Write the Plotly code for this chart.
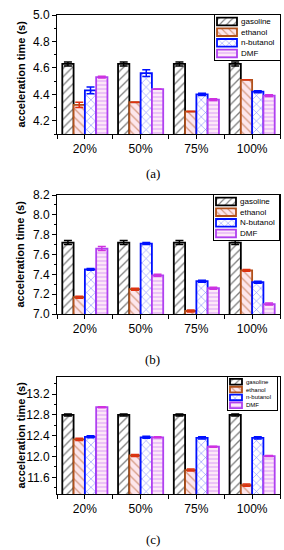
import plotly.graph_objects as go

categories = ["20%", "50%", "75%", "100%"]
fuels_a = ["gasoline", "ethanol", "n-butanol", "DMF"]
fuels_b = ["gasoline", "ethanol", "N-butanol", "DMF"]
fuels_c = ["gasoline", "ethanol", "n-butanol", "DMF"]

# panel (a)
a_gasoline = [4.63, 4.63, 4.63, 4.63]
a_ethanol = [4.32, 4.34, 4.27, 4.51]
a_nbutanol = [4.43, 4.56, 4.40, 4.42]
a_dmf = [4.53, 4.44, 4.36, 4.39]
a_err = [[0.015] * 4, [0.02, 0, 0, 0], [0.025, 0.025, 0.008, 0.008], [0.006, 0, 0.006, 0.006]]

# panel (b)
b_gasoline = [7.72, 7.72, 7.72, 7.72]
b_ethanol = [7.17, 7.25, 7.03, 7.44]
b_nbutanol = [7.45, 7.71, 7.33, 7.32]
b_dmf = [7.66, 7.39, 7.26, 7.10]
b_err = [[0.02] * 4, [0.01] * 4, [0.01] * 4, [0.02, 0.01, 0.01, 0.01]]

# panel (c)
c_gasoline = [12.80, 12.80, 12.80, 12.80]
c_ethanol = [12.33, 12.02, 11.74, 11.45]
c_nbutanol = [12.38, 12.37, 12.36, 12.36]
c_dmf = [12.95, 12.37, 12.19, 12.01]
c_err = [[0.02] * 4, [0.02] * 4, [0.02] * 4, [0.01] * 4]

yranges = [[4.1, 5.0], [7.0, 8.2], [11.28, 13.53]]
ydticks = [0.2, 0.2, 0.4]
panel_labels = ["(a)", "(b)", "(c)"]

colors = ["#000000", "#b0501a", "#0010ff", "#b040f0"]
errcolors = ["#000000", "#e03010", "#0010ff", "#d030e0"]
bgcolors = ["#ffffff", "#fde6ec", "#ffffff", "#fde8f8"]
shapes = ["/", "\\", "x", "-"]
solids = [0.22, 0.22, 0.18, 0.22]

W, H = 284, 550
x0, x1 = 57, 280
panels_px = [(15, 134), (195, 314), (377, 494)]
label_y = [173, 359, 539]
# legend boxes (left, right, top, bottom) in px, swatch width, font size
legend_px = [(215, 280, 15, 60, 20, 8), (214, 279, 195, 240, 20, 8), (228, 277, 377, 410, 12, 6)]

fig = go.Figure()
xnum = list(range(len(categories)))

data = [
    (fuels_a, [a_gasoline, a_ethanol, a_nbutanol, a_dmf], a_err),
    (fuels_b, [b_gasoline, b_ethanol, b_nbutanol, b_dmf], b_err),
    (fuels_c, [c_gasoline, c_ethanol, c_nbutanol, c_dmf], c_err),
]


def marker(i, size=6):
    return dict(
        color=bgcolors[i],
        line=dict(color=colors[i], width=1.8),
        pattern=dict(shape=shapes[i], fgcolor=colors[i], bgcolor=bgcolors[i],
                     size=size if i != 3 else 4, solidity=solids[i], fillmode="overlay"),
    )


for p, (names, series, errs) in enumerate(data):
    xa = "x" if p == 0 else f"x{p+1}"
    ya = "y" if p == 0 else f"y{p+1}"
    for i, (nm, vals) in enumerate(zip(names, series)):
        fig.add_trace(go.Bar(
            x=xnum, y=vals, name=nm, xaxis=xa, yaxis=ya, showlegend=False,
            marker=marker(i),
            error_y=dict(type="data", array=errs[i], color=errcolors[i],
                         thickness=1.5, width=4, visible=True),
        ))

# legend swatches on inset axes (added after all data bars)
for p, (names, series, errs) in enumerate(data):
    lx = f"x{p+4}"
    ly = f"y{p+4}"
    L, R, T, B, sw, fs = legend_px[p]
    for i, nm in enumerate(names):
        fig.add_trace(go.Bar(
            y=[i], x=[sw], base=[2], orientation="h", xaxis=lx, yaxis=ly,
            width=0.72, showlegend=False, hoverinfo="skip",
            marker=marker(i, size=5),
        ))

layout = dict(
    width=W, height=H,
    margin=dict(l=0, r=0, t=0, b=0, autoexpand=False),
    paper_bgcolor="white", plot_bgcolor="white",
    barmode="group", bargap=0.19, bargroupgap=0,
    font=dict(family="Liberation Sans, Arial, sans-serif", color="black"),
    showlegend=False,
    annotations=[],
)

for p in range(3):
    top, bot = panels_px[p]
    yd = [1 - bot / H, 1 - top / H]
    xkey = "xaxis" if p == 0 else f"xaxis{p+1}"
    ykey = "yaxis" if p == 0 else f"yaxis{p+1}"
    xa = "x" if p == 0 else f"x{p+1}"
    ya = "y" if p == 0 else f"y{p+1}"
    layout[xkey] = dict(
        domain=[x0 / W, x1 / W], anchor=ya, range=[-0.5, 3.5],
        tickvals=xnum, ticktext=categories,
        showline=True, linecolor="black", linewidth=1, mirror=True,
        ticks="outside", ticklen=4, tickcolor="black", tickwidth=1,
        minor=dict(tickmode="array", tickvals=[-0.5, 0.5, 1.5, 2.5, 3.5], ticks="outside",
                   ticklen=4, tickcolor="black", tickwidth=1),
        tickfont=dict(size=12), showgrid=False, zeroline=False, fixedrange=True,
        automargin=False,
    )
    layout[ykey] = dict(
        domain=yd, anchor=xa, range=yranges[p], dtick=ydticks[p],
        showline=True, linecolor="black", linewidth=1, mirror=True,
        ticks="outside", ticklen=4, tickcolor="black", tickwidth=1,
        minor=dict(dtick=ydticks[p] / 2, ticks="outside", ticklen=2,
                   tickcolor="black", tickwidth=1),
        tickformat=".1f", tickfont=dict(size=12),
        showgrid=False, zeroline=False, fixedrange=True, automargin=False,
    )
    # inset legend axes
    L, R, T, B, sw, fs = legend_px[p]
    lxk, lyk = f"xaxis{p+4}", f"yaxis{p+4}"
    layout[lxk] = dict(
        domain=[L / W, R / W], anchor=f"y{p+4}", range=[0, R - L],
        showline=True, linecolor="black", linewidth=1, mirror=True,
        showticklabels=False, ticks="", showgrid=False, zeroline=False, fixedrange=True,
        automargin=False,
    )
    layout[lyk] = dict(
        domain=[1 - B / H, 1 - T / H], anchor=f"x{p+4}", range=[3.6, -0.6],
        showline=True, linecolor="black", linewidth=1, mirror=True,
        showticklabels=False, ticks="", showgrid=False, zeroline=False, fixedrange=True,
        automargin=False,
    )
    names = data[p][0]
    for i, nm in enumerate(names):
        layout["annotations"].append(dict(
            text=nm, x=sw + 4, y=i, xref=f"x{p+4}", yref=f"y{p+4}",
            showarrow=False, xanchor="left", yanchor="middle",
            font=dict(size=fs),
        ))
    layout["annotations"].append(dict(
        text="<b>acceleration time (s)</b>", textangle=-90,
        x=20 / W, y=1 - (top + bot) / 2 / H, xref="paper", yref="paper",
        showarrow=False, font=dict(size=11), xanchor="center", yanchor="middle",
    ))
    layout["annotations"].append(dict(
        text=panel_labels[p], x=153 / W, y=1 - label_y[p] / H, xref="paper", yref="paper",
        showarrow=False, font=dict(size=13, family="Liberation Serif, Times New Roman, serif"),
        xanchor="center", yanchor="middle",
    ))

fig.update_layout(**layout)
fig.write_html(
    "out.html",
    config={"displayModeBar": False, "staticPlot": True},
    post_script="document.body.style.margin='0';document.body.style.padding='0';"
                "document.body.style.overflow='hidden';"
                "document.documentElement.style.overflow='hidden';",
)
